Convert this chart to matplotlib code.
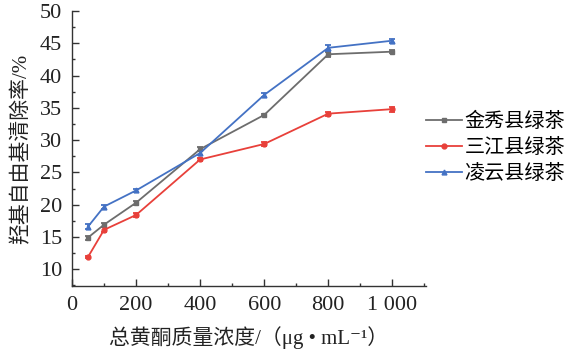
import matplotlib
matplotlib.use("Agg")
import matplotlib.pyplot as plt
from matplotlib.ticker import MultipleLocator, FuncFormatter
from matplotlib.lines import Line2D

plt.rcParams['font.family'] = ['Liberation Serif', 'Noto Sans CJK SC', 'DejaVu Sans']

conc = [50, 100, 200, 400, 600, 800, 1000]
jinxiu = [14.9, 16.9, 20.3, 28.6, 33.9, 43.3, 43.7]
jinxiu_err = [0.3, 0.3, 0.3, 0.3, 0.2, 0.4, 0.2]
sanjiang = [11.9, 16.1, 18.4, 27.0, 29.4, 34.1, 34.8]
sanjiang_err = [0.2, 0.4, 0.3, 0.2, 0.3, 0.3, 0.4]
lingyun = [16.6, 19.7, 22.2, 28.0, 37.0, 44.3, 45.4]
lingyun_err = [0.4, 0.3, 0.3, 0.3, 0.3, 0.5, 0.3]
labels = ['金秀县绿茶', '三江县绿茶', '凌云县绿茶']

fig = plt.figure(figsize=(5.71, 3.53), dpi=100)
ax = fig.add_axes([72/571, 1-286/353, (426-72)/571, (286-11)/353])

styles = [('#6d6d6d', 's', jinxiu, jinxiu_err),
          ('#e8403a', 'o', sanjiang, sanjiang_err),
          ('#4472c4', '^', lingyun, lingyun_err)]
handles = []
for (c, m, y, e), lab in zip(styles, labels):
    ax.errorbar(conc, y, yerr=e, color=c, marker=m, markersize=3.5, lw=1.3,
                capsize=2.5, elinewidth=1.3, capthick=1.3)
    handles.append(Line2D([], [], color=c, marker=m, markersize=3.5, lw=1.3, label=lab))

ax.set_xlim(0, 1105)
ax.set_ylim(7.4, 50)
ax.xaxis.set_major_locator(MultipleLocator(200))
ax.xaxis.set_minor_locator(MultipleLocator(100))
ax.yaxis.set_major_locator(MultipleLocator(5))
ax.yaxis.set_minor_locator(MultipleLocator(2.5))
ax.xaxis.set_major_formatter(FuncFormatter(lambda v, p: '1 000' if v == 1000 else f'{int(v)}'))
for s in ['top', 'right']:
    ax.spines[s].set_visible(False)
for s in ['left', 'bottom']:
    ax.spines[s].set_linewidth(1.0)
    ax.spines[s].set_color('#333333')
ax.tick_params(which='major', direction='in', length=5, width=1.0, labelsize=16,
               colors='#333333', labelcolor='#222222', pad=7)
ax.tick_params(which='minor', direction='in', length=2.5, width=1.0, colors='#333333')

ax.set_ylabel('羟基自由基清除率/%', fontsize=15, color='#222222', labelpad=6)
ax.set_xlabel('总黄酮质量浓度/（μg • mL⁻¹）', fontsize=15, color='#222222', labelpad=8)

ax.legend(handles=handles, loc='center left', bbox_to_anchor=(1.0, 0.50), frameon=False,
          fontsize=14.5, handlelength=1.8, handletextpad=0.1, labelspacing=0.35,
          borderaxespad=0.0, borderpad=0.0)

fig.savefig('out.png', dpi=100)
